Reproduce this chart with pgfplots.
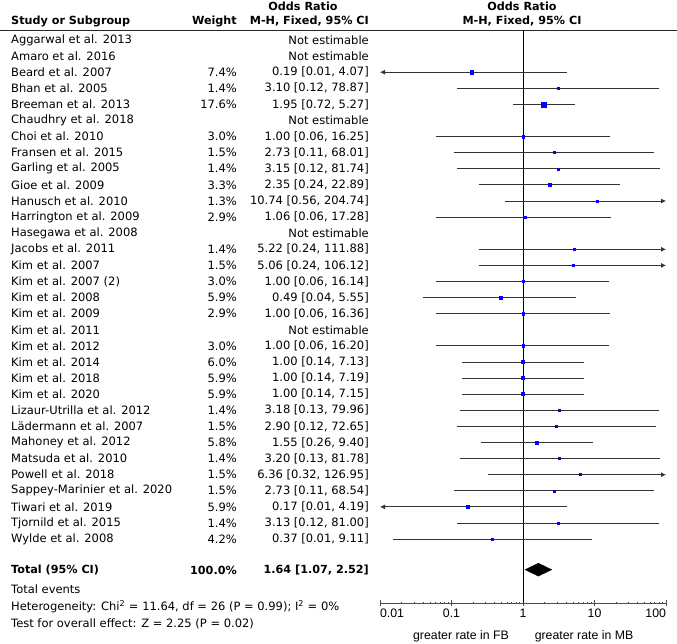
\documentclass[border=0pt]{standalone}
\usepackage{pgfplots}
\pgfplotsset{compat=1.18}
\usepackage{pgfplotstable}
\usepackage{fontspec}
\setmainfont{DejaVu Sans}
\newfontfamily\arialfont{Liberation Sans}
\usetikzlibrary{arrows.meta}

\pgfplotstableread{
y or ms
-2 0.19 1.7
-3 3.10 1.0
-4 1.95 2.6
-6 1.00 1.2
-7 2.73 1.0
-8 3.15 1.0
-9 2.35 1.2
-10 10.74 1.0
-11 1.06 1.2
-13 5.22 1.0
-14 5.06 1.0
-15 1.00 1.2
-16 0.49 1.5
-17 1.00 1.2
-19 1.00 1.2
-20 1.00 1.5
-21 1.00 1.5
-22 1.00 1.5
-23 3.18 1.0
-24 2.90 1.0
-25 1.55 1.5
-26 3.20 1.0
-27 6.36 1.0
-28 2.73 1.0
-29 0.17 1.5
-30 3.13 1.0
-31 0.37 1.3
}\studies

\newcommand{\tf}{\fontsize{11.5}{13}\selectfont}
\newcommand{\hf}{\fontsize{11.2}{13}\selectfont\bfseries}

\begin{document}
\begin{tikzpicture}[x=1pt,y=1pt]
\path[use as bounding box] (0,0) rectangle (677,-644);

% header
\node[font=\hf, anchor=west, inner sep=0] at (11,-21) {Study or Subgroup};
\node[font=\hf, anchor=east, inner sep=0] at (237,-21) {Weight};
\node[font=\hf, anchor=center, inner sep=0] at (303,-6) {Odds Ratio};
\node[font=\hf, anchor=east, inner sep=0] at (369,-21) {M-H, Fixed, 95\% CI};
\node[font=\hf, anchor=center, inner sep=0] at (522,-6) {Odds Ratio};
\node[font=\hf, anchor=center, inner sep=0] at (522,-21) {M-H, Fixed, 95\% CI};
\draw[black!85, line width=0.9pt] (0,-30) -- (677,-30);

\foreach \nm/\wt/\ci [count=\i from 0] in {
Aggarwal et al. 2013//Not estimable,
Amaro et al. 2016//Not estimable,
Beard et al. 2007/7.4\%/{0.19 [0.01, 4.07]},
Bhan et al. 2005/1.4\%/{3.10 [0.12, 78.87]},
Breeman et al. 2013/17.6\%/{1.95 [0.72, 5.27]},
Chaudhry et al. 2018//Not estimable,
Choi et al. 2010/3.0\%/{1.00 [0.06, 16.25]},
Fransen et al. 2015/1.5\%/{2.73 [0.11, 68.01]},
Garling et al. 2005/1.4\%/{3.15 [0.12, 81.74]},
Gioe et al. 2009/3.3\%/{2.35 [0.24, 22.89]},
Hanusch et al. 2010/1.3\%/{10.74 [0.56, 204.74]},
Harrington et al. 2009/2.9\%/{1.06 [0.06, 17.28]},
Hasegawa et al. 2008//Not estimable,
Jacobs et al. 2011/1.4\%/{5.22 [0.24, 111.88]},
Kim et al. 2007/1.5\%/{5.06 [0.24, 106.12]},
Kim et al. 2007 (2)/3.0\%/{1.00 [0.06, 16.14]},
Kim et al. 2008/5.9\%/{0.49 [0.04, 5.55]},
Kim et al. 2009/2.9\%/{1.00 [0.06, 16.36]},
Kim et al. 2011//Not estimable,
Kim et al. 2012/3.0\%/{1.00 [0.06, 16.20]},
Kim et al. 2014/6.0\%/{1.00 [0.14, 7.13]},
Kim et al. 2018/5.9\%/{1.00 [0.14, 7.19]},
Kim et al. 2020/5.9\%/{1.00 [0.14, 7.15]},
Lizaur-Utrilla et al. 2012/1.4\%/{3.18 [0.13, 79.96]},
Lädermann et al. 2007/1.5\%/{2.90 [0.12, 72.65]},
Mahoney et al. 2012/5.8\%/{1.55 [0.26, 9.40]},
Matsuda et al. 2010/1.4\%/{3.20 [0.13, 81.78]},
Powell et al. 2018/1.5\%/{6.36 [0.32, 126.95]},
Sappey-Marinier et al. 2020/1.5\%/{2.73 [0.11, 68.54]},
Tiwari et al. 2019/5.9\%/{0.17 [0.01, 4.19]},
Tjornild et al. 2015/1.4\%/{3.13 [0.12, 81.00]},
Wylde et al. 2008/4.2\%/{0.37 [0.01, 9.11]}}
{
  \pgfmathsetmacro{\yy}{-(40+16.1*\i)}
  \node[font=\tf, anchor=west, inner sep=0] at (11,\yy) {\nm};
  \node[font=\tf, anchor=east, inner sep=0] at (237,\yy) {\wt};
  \node[font=\tf, anchor=east, inner sep=0] at (369,\yy) {\ci};
}

\node[font=\hf, anchor=west, inner sep=0] at (11,-570) {Total (95\% CI)};
\node[font=\hf, anchor=east, inner sep=0] at (237,-570) {100.0\%};
\node[font=\hf, anchor=east, inner sep=0] at (369,-570) {1.64 [1.07, 2.52]};
\node[font=\tf, anchor=west, inner sep=0] at (11,-589) {Total events};
\node[font=\tf, anchor=west, inner sep=0] at (11,-606.5) {Heterogeneity: Chi\textsuperscript{2} = 11.64, df = 26 (P = 0.99); I\textsuperscript{2} = 0\%};
\node[font=\tf, anchor=west, inner sep=0] at (11,-624) {Test for overall effect: Z = 2.25 (P = 0.02)};

\node[font=\arialfont\fontsize{12.3}{14}\selectfont, anchor=center, inner sep=0] at (461,-636) {greater rate in FB};
\node[font=\arialfont\fontsize{12.3}{14}\selectfont, anchor=center, inner sep=0] at (584,-636) {greater rate in MB};

\begin{axis}[
  at={(380pt,-30pt)}, anchor=north west,
  scale only axis, width=286pt, height=573pt,
  xmode=log, xmin=0.01, xmax=100,
  ymin=-34.97, ymax=0.621,
  axis x line=bottom, axis y line=none,
  x axis line style={-, black!70, line width=0.9pt},
  xtick={0.01,0.1,1,10,100},
  xticklabels={\rlap{0.01},0.1,1,10,\llap{100}},
  minor xtick={},
  tick align=center, major tick length=6pt,
  every tick/.style={black!70, line width=0.9pt},
  xticklabel style={font=\arialfont\fontsize{12.3}{14}\selectfont, inner sep=1pt, yshift=-2pt},
  /pgf/number format/assume math mode=true,
  clip=false,
]
% reference line at OR = 1
\addplot[black, line width=0.8pt] coordinates {(1,0.621) (1,-34.97)};

% confidence intervals
\pgfplotsset{ci/.style={black!80, line width=0.8pt}, ar/.style={ci, -{Latex[length=5pt,width=5pt]}}, al/.style={ci, {Latex[length=5pt,width=5pt]}-}}
\addplot[al] coordinates {(0.01,-2) (4.07,-2)};
\addplot[ci] coordinates {(0.12,-3) (78.87,-3)};
\addplot[ci] coordinates {(0.72,-4) (5.27,-4)};
\addplot[ci] coordinates {(0.06,-6) (16.25,-6)};
\addplot[ci] coordinates {(0.11,-7) (68.01,-7)};
\addplot[ci] coordinates {(0.12,-8) (81.74,-8)};
\addplot[ci] coordinates {(0.24,-9) (22.89,-9)};
\addplot[ar] coordinates {(0.56,-10) (100,-10)};
\addplot[ci] coordinates {(0.06,-11) (17.28,-11)};
\addplot[ar] coordinates {(0.24,-13) (100,-13)};
\addplot[ar] coordinates {(0.24,-14) (100,-14)};
\addplot[ci] coordinates {(0.06,-15) (16.14,-15)};
\addplot[ci] coordinates {(0.04,-16) (5.55,-16)};
\addplot[ci] coordinates {(0.06,-17) (16.36,-17)};
\addplot[ci] coordinates {(0.06,-19) (16.20,-19)};
\addplot[ci] coordinates {(0.14,-20) (7.13,-20)};
\addplot[ci] coordinates {(0.14,-21) (7.19,-21)};
\addplot[ci] coordinates {(0.14,-22) (7.15,-22)};
\addplot[ci] coordinates {(0.13,-23) (79.96,-23)};
\addplot[ci] coordinates {(0.12,-24) (72.65,-24)};
\addplot[ci] coordinates {(0.26,-25) (9.40,-25)};
\addplot[ci] coordinates {(0.13,-26) (81.78,-26)};
\addplot[ar] coordinates {(0.32,-27) (100,-27)};
\addplot[ci] coordinates {(0.11,-28) (68.54,-28)};
\addplot[al] coordinates {(0.01,-29) (4.19,-29)};
\addplot[ci] coordinates {(0.12,-30) (81.00,-30)};
\addplot[ci] coordinates {(0.015,-31) (9.11,-31)};

% point estimates
\addplot[only marks, mark=square*, blue,
  visualization depends on={\thisrow{ms} \as \msz},
  scatter, scatter/use mapped color={draw=blue, fill=blue},
  scatter/@pre marker code/.append style={/tikz/mark size=\msz pt}]
  table[x=or, y=y] {\studies};

% pooled estimate
\addplot[fill=black, draw=black] coordinates {(1.07,-32.9) (1.64,-32.5) (2.52,-32.9) (1.64,-33.3)} -- cycle;
\end{axis}
\end{tikzpicture}
\end{document}
